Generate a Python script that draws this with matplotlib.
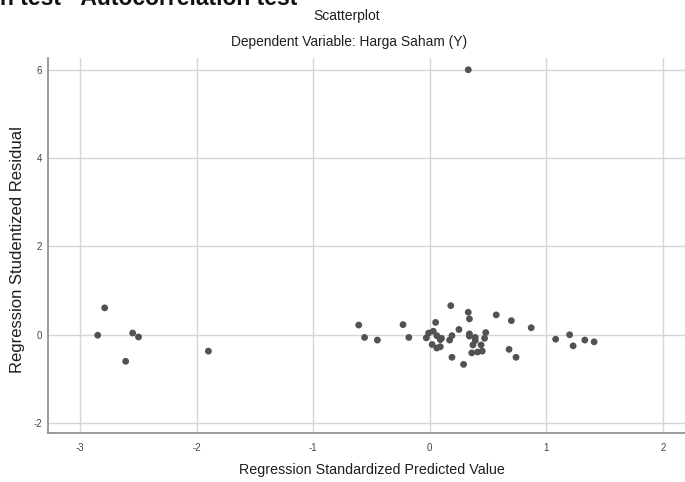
import matplotlib
matplotlib.use("Agg")
import matplotlib.pyplot as plt

# Data
pred_std = [0.33,
            -2.79, -2.85, -2.55, -2.50, -2.61, -1.90,
            -0.61, -0.56, -0.45, -0.23, -0.18,
            0.18, 0.33, 0.34, 0.57, 0.70, 0.87, 0.05, 0.25, 0.03, -0.01,
            -0.03, 0.06, 0.10, 0.09, 0.19, 0.17, 0.34, 0.34, 0.39, 0.39,
            0.48, 0.47, 0.02, 0.06, 0.09, 0.37, 0.44, 0.36, 0.41, 0.45,
            0.19, 0.29, 0.68, 0.74, 1.08, 1.20, 1.23, 1.33, 1.41]
resid_stud = [6.00,
              0.61, -0.01, 0.04, -0.05, -0.60, -0.37,
              0.22, -0.06, -0.12, 0.23, -0.06,
              0.66, 0.51, 0.36, 0.45, 0.32, 0.16, 0.28, 0.12, 0.08, 0.04,
              -0.07, -0.02, -0.08, -0.11, -0.02, -0.12, 0.02, -0.03, -0.06, -0.13,
              0.05, -0.08, -0.22, -0.30, -0.27, -0.23, -0.23, -0.41, -0.39, -0.37,
              -0.51, -0.67, -0.33, -0.51, -0.10, 0.00, -0.25, -0.12, -0.16]
x_ticks = [-3, -2, -1, 0, 1, 2]
y_ticks = [-2, 0, 2, 4, 6]

title = "Scatterplot"
subtitle = "Dependent Variable: Harga Saham (Y)"
heading = "n test - Autocorrelation test"
x_label = "Regression Standardized Predicted Value"
y_label = "Regression Studentized Residual"

font = ["Liberation Sans", "DejaVu Sans"]

fig = plt.figure(figsize=(6.85, 4.82), dpi=100)
ax = fig.add_axes([0.070, 0.102, 0.930, 0.778])

ax.scatter(pred_std, resid_stud, s=24, color="#525252", edgecolors="none", zorder=3)

ax.set_xlim(-3.277, 2.19)
ax.set_ylim(-2.22, 6.27)
ax.set_xticks(x_ticks)
ax.set_yticks(y_ticks)
ax.set_xticklabels([str(v) for v in x_ticks], fontsize=7, color="#444444", family=font)
ax.set_yticklabels([str(v) for v in y_ticks], fontsize=7, color="#444444", family=font)
ax.tick_params(axis="x", length=0, pad=7)
ax.tick_params(axis="y", length=0, pad=4)
ax.grid(True, color="#d6d6d6", linewidth=1.0, zorder=0)
ax.set_axisbelow(True)
for s in ["top", "right"]:
    ax.spines[s].set_visible(False)
for s in ["left", "bottom"]:
    ax.spines[s].set_color("#8a8a8a")
    ax.spines[s].set_linewidth(1.2)

# axis titles placed in figure pixels to match the reference
fig.text(372 / 685, 1 - 470 / 482, x_label, ha="center", va="center", fontsize=10.3,
         family=font, color="#1e1e1e")
fig.text(18 / 685, 1 - 250 / 482, y_label, ha="center", va="center", rotation=90,
         fontsize=12, family=font, color="#1e1e1e")

fig.text(347 / 685, 1 - 16 / 482, title, ha="center", va="center", fontsize=10,
         family=font, color="#1e1e1e")
fig.text(349 / 685, 1 - 42 / 482, subtitle, ha="center", va="center", fontsize=9.9,
         family=font, color="#1e1e1e")
# heading of the source page, cut off at the top edge as in the reference
fig.text(0.0, 1 - 5 / 482, heading, ha="left", va="baseline", fontsize=16.5,
         fontweight="bold", color="#111111", family=font)

fig.savefig("out.png", dpi=100)
